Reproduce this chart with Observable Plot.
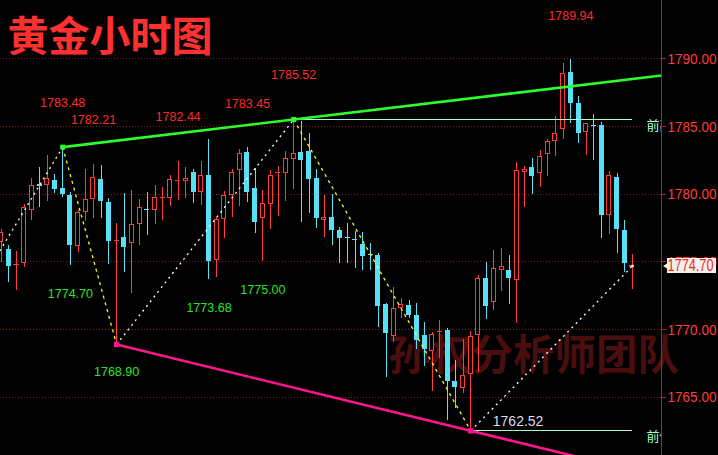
<!DOCTYPE html>
<html>
<head>
<meta charset="utf-8">
<script src="https://cdn.jsdelivr.net/npm/d3@7"></script>
<script src="https://cdn.jsdelivr.net/npm/@observablehq/plot@0.6"></script>
<style>
  html, body { margin: 0; padding: 0; background: #000; overflow: hidden; }
  #chart svg { display: block; }
</style>
</head>
<body>
<div id="chart"></div>
<script>
// Hourly gold candles (bar 0 = oldest on screen)
const open = [
  1776.45, 1775.91, 1774.77, 1774.92, 1778.85, 1780.65, 1780.69, 1781.01, 1780.35, 1779.90,
  1776.16, 1778.67, 1779.64, 1781.06, 1779.37, 1776.57, 1776.74, 1776.38, 1777.80, 1778.86,
  1778.83, 1779.72, 1779.73, 1781.00, 1780.96, 1781.54, 1780.15, 1781.38, 1775.12, 1778.18,
  1779.96, 1781.80, 1783.08, 1780.40, 1778.23, 1779.29, 1781.59, 1781.55, 1782.59, 1783.08,
  1783.15, 1781.16, 1778.11, 1778.28, 1777.32, 1776.76, 1776.64, 1776.28, 1775.53, 1775.40,
  1771.85, 1769.56, 1771.58, 1771.78, 1771.04, 1769.56, 1768.40, 1769.79, 1769.86, 1766.11,
  1765.67, 1766.73, 1769.61, 1773.75, 1772.02, 1774.41, 1774.36, 1773.68, 1781.65, 1781.97,
  1781.55, 1782.98, 1783.92, 1784.83, 1788.99, 1786.70, 1784.61, 1785.03, 1785.07, 1778.48,
  1781.23, 1777.32, 1774.60
];
const high = [
  1777.39, 1776.21, 1775.77, 1779.22, 1781.14, 1781.97, 1782.86, 1781.45, 1783.48, 1780.16,
  1778.77, 1781.80, 1782.21, 1782.15, 1779.72, 1777.83, 1780.04, 1780.27, 1779.63, 1780.14,
  1780.64, 1780.48, 1781.38, 1782.44, 1781.95, 1781.81, 1782.40, 1784.02, 1778.31, 1780.20,
  1781.82, 1783.28, 1783.45, 1781.88, 1780.27, 1781.75, 1782.05, 1783.15, 1785.52, 1785.37,
  1784.46, 1781.80, 1779.88, 1779.96, 1777.54, 1777.81, 1777.22, 1777.15, 1776.34, 1775.60,
  1771.90, 1773.13, 1772.27, 1772.15, 1771.95, 1770.52, 1769.80, 1770.67, 1770.06, 1767.71,
  1769.24, 1769.88, 1773.99, 1774.93, 1775.84, 1775.97, 1775.47, 1782.32, 1782.07, 1782.66,
  1783.23, 1784.02, 1785.74, 1789.63, 1789.94, 1787.22, 1785.20, 1785.89, 1785.32, 1781.68,
  1781.51, 1778.06, 1775.54
];
const low = [
  1774.95, 1773.50, 1772.88, 1774.61, 1778.06, 1779.04, 1779.48, 1780.07, 1779.78, 1774.70,
  1775.71, 1778.00, 1778.23, 1778.24, 1774.81, 1768.90, 1774.24, 1772.69, 1776.21, 1776.95,
  1777.80, 1778.06, 1779.09, 1779.56, 1779.68, 1779.33, 1779.16, 1773.68, 1773.87, 1776.70,
  1778.30, 1779.11, 1779.41, 1777.12, 1775.00, 1777.41, 1778.35, 1779.48, 1780.32, 1777.93,
  1778.55, 1777.49, 1776.82, 1776.23, 1774.86, 1774.90, 1774.53, 1774.36, 1774.36, 1770.17,
  1766.48, 1769.07, 1770.79, 1770.79, 1768.50, 1767.27, 1765.44, 1767.84, 1763.28, 1764.14,
  1765.25, 1762.52, 1766.85, 1770.72, 1771.41, 1772.83, 1771.85, 1770.42, 1779.04, 1779.98,
  1780.52, 1781.31, 1782.78, 1784.04, 1785.20, 1783.77, 1782.86, 1782.49, 1776.70, 1777.00,
  1775.60, 1774.24, 1772.94
];
const close = [
  1777.15, 1774.73, 1774.78, 1778.99, 1780.64, 1780.64, 1781.14, 1780.37, 1780.00, 1776.28,
  1778.63, 1779.59, 1781.21, 1779.48, 1776.58, 1776.58, 1776.08, 1777.74, 1778.99, 1778.85,
  1779.73, 1779.73, 1781.06, 1781.01, 1781.14, 1780.13, 1781.31, 1775.10, 1778.06, 1779.88,
  1781.60, 1782.98, 1780.15, 1777.93, 1779.29, 1781.36, 1781.60, 1782.61, 1782.98, 1782.56,
  1781.11, 1778.23, 1778.28, 1777.34, 1776.75, 1776.75, 1776.63, 1775.42, 1775.52, 1771.78,
  1769.73, 1771.53, 1771.83, 1771.11, 1769.24, 1768.60, 1769.61, 1769.80, 1766.24, 1765.74,
  1766.60, 1769.49, 1773.75, 1771.78, 1774.44, 1774.61, 1773.79, 1781.68, 1781.82, 1781.33,
  1782.78, 1783.89, 1784.46, 1788.89, 1786.72, 1784.51, 1785.20, 1785.02, 1778.48, 1781.33,
  1777.41, 1774.90, 1774.70
];

// Price axis ticks
const yTicks = [1790, 1785, 1780, 1775, 1770, 1765, 1760];

// Bars whose high / low is annotated
const highLabelBars = [8, 12, 23, 32, 38, 74];
const lowLabelBars = [9, 15, 27, 34];

// Swing points of the zigzag: high, low, high, low, then the last close
const swingBars = [8, 15, 38, 61, 82];
const swingKinds = ["high", "low", "high", "low", "close"];
// Swing low that lies before the first visible bar
const priorSwing = { bar: -3, price: 1773.15 };

const titleText = "黄金小时图";
const watermarkText = "孙权分析师团队";
const prevHighText = "前高";
const prevLowText = "前低";

// Colours
const UP = "#ff3b3b";
const DOWN = "#58e0f6";
const GRID = "#8e1a1a";
const AXIS = "#b42424";
const GREEN = "#2cff2c";
const PINK = "#ff168c";
const MINT = "#a8ffd2";

// Visible bar range on the x scale
const xMin = -0.078, xMax = 85.77;

const bars = open.map((o, i) => ({ i, open: o, high: high[i], low: low[i], close: close[i] }));
const upBars = bars.filter(d => d.close >= d.open);
const downBars = bars.filter(d => d.close < d.open);

const series = { high, low, close };
const swings = [{ i: priorSwing.bar, p: priorSwing.price }]
  .concat(swingBars.map((b, k) => ({ i: b, p: series[swingKinds[k]][b] })));
const legs = d3.pairs(swings).map(([a, b]) => ({ x1: a.i, y1: a.p, x2: b.i, y2: b.p, up: b.p > a.p }));

// Trend line through two pivots, extended to the right edge
function trend(i1, p1, i2, p2) {
  const s = (p2 - p1) / (i2 - i1);
  return { x1: i1, y1: p1, x2: xMax, y2: p1 + s * (xMax - i1) };
}
const topLine = trend(8, high[8], 38, high[38]);
const bottomLine = trend(15, low[15], 61, low[61]);

const lastClose = close[close.length - 1];
const lastBar = close.length - 1;

// Left-pointing arrow for the last-price tag
const leftArrow = {
  draw(ctx, size) {
    const s = Math.sqrt(size / Math.PI);
    ctx.moveTo(-s, 0);
    ctx.lineTo(s * 0.7, -s * 1.05);
    ctx.lineTo(s * 0.7, s * 1.05);
    ctx.closePath();
  }
};

const chart = Plot.plot({
  width: 718,
  height: 455,
  marginTop: 0,
  marginBottom: 0,
  marginLeft: 0,
  marginRight: 57,
  x: { domain: [xMin, xMax], axis: null },
  y: { domain: [1760.70, 1794.31], axis: null },
  style: { background: "#000", color: UP, fontFamily: "Liberation Sans, Arial, sans-serif" },
  marks: [
    // dotted price grid
    Plot.ruleY(yTicks, { stroke: GRID, strokeDasharray: "1,2", shapeRendering: "crispEdges" }),
    // watermark
    Plot.text([watermarkText], {
      text: d => d, frameAnchor: "top-left", dx: 388, dy: 340, lineAnchor: "top", textAnchor: "start",
      fill: "#4a0e0e", fontSize: 41.5, fontWeight: "bold", fontFamily: "Noto Sans CJK SC"
    }),
    // wicks
    Plot.ruleX(upBars, { x: "i", y1: "low", y2: "high", stroke: UP, shapeRendering: "crispEdges" }),
    Plot.ruleX(downBars, { x: "i", y1: "low", y2: "high", stroke: DOWN, shapeRendering: "crispEdges" }),
    // bodies: rising hollow red, falling solid cyan
    Plot.rect(upBars, {
      x1: d => d.i - 0.26, x2: d => d.i + 0.26, y1: "open", y2: "close",
      fill: "#000", stroke: UP, shapeRendering: "crispEdges"
    }),
    Plot.rect(downBars, {
      x1: d => d.i - 0.26, x2: d => d.i + 0.26, y1: "open", y2: "close",
      fill: DOWN, stroke: DOWN, shapeRendering: "crispEdges"
    }),
    // previous high / previous low levels
    Plot.ruleY([high[38]], { x1: 38, x2: lastBar, stroke: MINT, shapeRendering: "crispEdges" }),
    Plot.ruleY([low[61]], { x1: 61, x2: lastBar, stroke: MINT, shapeRendering: "crispEdges" }),
    Plot.text([{ y: high[38], t: prevHighText }, { y: low[61], t: prevLowText }], {
      y: "y", text: "t", frameAnchor: "right", dx: -15, dy: 6, textAnchor: "start",
      fill: MINT, fontSize: 13, fontFamily: "Noto Sans CJK SC", clip: true
    }),
    // zigzag
    Plot.link(legs.filter(d => d.up), {
      x1: "x1", y1: "y1", x2: "x2", y2: "y2", stroke: "#ffffff", strokeWidth: 1.3, strokeDasharray: "2,4"
    }),
    Plot.link(legs.filter(d => !d.up), {
      x1: "x1", y1: "y1", x2: "x2", y2: "y2", stroke: "#ffff00", strokeWidth: 1.3, strokeDasharray: "3,4"
    }),
    // trend lines
    Plot.link([topLine], { x1: "x1", y1: "y1", x2: "x2", y2: "y2", stroke: GREEN, strokeWidth: 2.6 }),
    Plot.link([bottomLine], { x1: "x1", y1: "y1", x2: "x2", y2: "y2", stroke: PINK, strokeWidth: 2.6 }),
    Plot.dot([8, 38], { x: d => d, y: d => high[d], symbol: "square", r: 2.8, fill: GREEN }),
    Plot.dot([15, 61], { x: d => d, y: d => low[d], symbol: "square", r: 3, fill: PINK }),
    Plot.dot([lastBar], { x: d => d, y: d => close[d], symbol: "square", r: 1.3, fill: "#ffffff" }),
    // swing value labels
    Plot.text(highLabelBars, {
      x: d => d, y: d => high[d], text: d => high[d].toFixed(2), dy: -44,
      fill: "#ff2a2a", fontSize: 12.5
    }),
    Plot.text(lowLabelBars, {
      x: d => d, y: d => low[d], text: d => low[d].toFixed(2), dy: 28,
      fill: "#26e626", fontSize: 12.5
    }),
    Plot.text([61], {
      x: d => d, y: d => low[d], text: d => low[d].toFixed(2), dx: 22, dy: -9,
      textAnchor: "start", fill: "#dadcf0", fontSize: 14
    }),
    // price axis
    Plot.ruleX([xMax], { stroke: AXIS, shapeRendering: "crispEdges" }),
    Plot.ruleY(yTicks, { x1: xMax, x2: xMax + 0.65, stroke: AXIS, shapeRendering: "crispEdges" }),
    Plot.axisY(yTicks, {
      anchor: "right", tickSize: 0, tickPadding: 6, tickFormat: d => d.toFixed(2),
      color: "#ff3c3c", fontSize: 15.5, label: null
    }),
    // last price tag
    Plot.rect([lastClose], {
      x1: xMax + 0.78, x2: xMax + 7.14, y1: d => d - 0.58, y2: d => d + 0.58,
      fill: "#f2f2ea", shapeRendering: "crispEdges"
    }),
    Plot.dot([lastClose], { x: xMax, y: d => d, symbol: leftArrow, r: 4, dx: 5.5, fill: "#f2f2ea" }),
    Plot.text([lastClose], {
      y: d => d, text: d => d.toFixed(2), frameAnchor: "right", dx: 6, textAnchor: "start",
      fill: "#ff2020", fontSize: 16
    }),
    // title
    Plot.text([titleText], {
      text: d => d, frameAnchor: "top-left", dx: 7, dy: 21, lineAnchor: "top", textAnchor: "start",
      fill: "#ff3030", fontSize: 41, fontWeight: "bold", fontFamily: "Noto Sans CJK SC"
    })
  ]
});

document.getElementById("chart").appendChild(chart);

// The price column uses a condensed face: squeeze the larger price numbers into the margin
chart.querySelectorAll("text").forEach(t => {
  if (!/^\d{4}\.\d{2}$/.test(t.textContent.trim())) return;
  const fs = parseFloat(getComputedStyle(t).fontSize);
  if (fs < 15) return;
  const target = fs >= 16 ? 46 : 49;
  if (t.getComputedTextLength() > target) {
    t.setAttribute("textLength", target);
    t.setAttribute("lengthAdjust", "spacingAndGlyphs");
  }
});
</script>
</body>
</html>
